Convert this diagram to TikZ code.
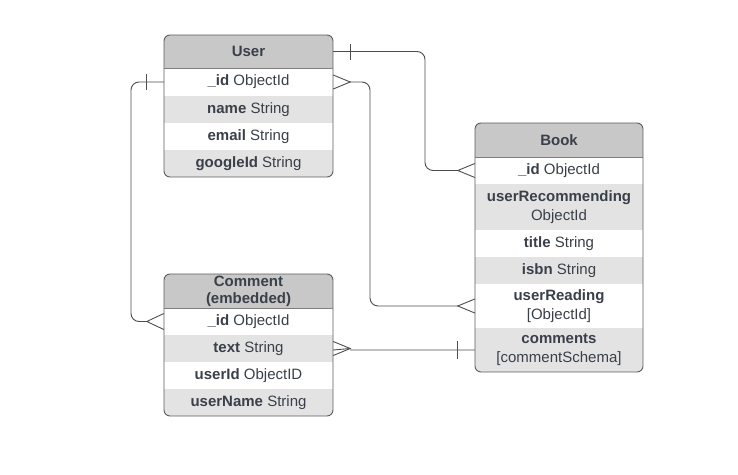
\documentclass[tikz,border=0pt]{standalone}
\usepackage{fontspec}
\setmainfont{Liberation Sans}
\usetikzlibrary{calc}
\definecolor{hdrgray}{HTML}{C8C8C8}
\definecolor{rowgray}{HTML}{E3E3E3}
\definecolor{bordergray}{HTML}{5C5C5C}
\definecolor{txt}{HTML}{3A4049}
\definecolor{linegray}{HTML}{4D4D4D}
\tikzset{
  cell/.style={rectangle, inner sep=0pt, minimum width=169pt, text=txt, font=\fontsize{15}{19}\selectfont, align=center},
  hdr/.style={cell, fill=hdrgray, font=\fontsize{15}{17}\selectfont\bfseries},
  roww/.style={cell, fill=white},
  rowg/.style={cell, fill=rowgray},
  boxline/.style={draw=bordergray, line width=0.9pt, rounded corners=6pt},
  sepline/.style={draw=bordergray!80, line width=1.3pt},
  conn/.style={draw=linegray, line width=0.9pt, rounded corners=8pt},
  tipline/.style={draw=linegray, line width=0.9pt}
}
\begin{document}
\begin{tikzpicture}[x=1pt,y=-1pt]
\useasboundingbox (0,0) rectangle (738,474);
% ---------- User ----------
\begin{scope}
\clip[rounded corners=6pt] (164,35) rectangle (333,177);
\node[hdr, minimum height=33pt] (user) at (248.5,51.5) {User};
\node[roww, minimum height=28pt] (u-id) at (248.5,82) {\textbf{\_id} ObjectId};
\node[rowg, minimum height=27pt] (u-name) at (248.5,109.5) {\textbf{name} String};
\node[roww, minimum height=27pt] (u-email) at (248.5,136.5) {\textbf{email} String};
\node[rowg, minimum height=27pt] (u-gid) at (248.5,163.5) {\textbf{googleId} String};
\end{scope}
\draw[boxline] (164,35) rectangle (333,177);
\draw[sepline] (user.south west) -- (user.south east);
% ---------- Book ----------
\begin{scope}
\clip[rounded corners=6pt] (475,123) rectangle (643,372);
\node[hdr, minimum width=168pt, minimum height=34pt] (book) at (559,140) {Book};
\node[roww, minimum width=168pt, minimum height=27pt] (b-id) at (559,170.5) {\textbf{\_id} ObjectId};
\node[rowg, minimum width=168pt, minimum height=46pt] (b-rec) at (559,207) {\textbf{userRecommending}\\ObjectId};
\node[roww, minimum width=168pt, minimum height=27pt] (b-title) at (559,243.5) {\textbf{title} String};
\node[rowg, minimum width=168pt, minimum height=27pt] (b-isbn) at (559,270.5) {\textbf{isbn} String};
\node[roww, minimum width=168pt, minimum height=44pt] (b-read) at (559,306) {\textbf{userReading}\\{}[ObjectId]};
\node[rowg, minimum width=168pt, minimum height=44pt] (b-com) at (559,350) {\textbf{comments}\\{}[commentSchema]};
\end{scope}
\draw[boxline] (475,123) rectangle (643,372);
\draw[sepline] (book.south west) -- (book.south east);
% ---------- Comment ----------
\begin{scope}
\clip[rounded corners=6pt] (164,274) rectangle (333,416);
\node[hdr, minimum height=34pt] (comment) at (248.5,291) {Comment\\(embedded)};
\node[roww, minimum height=27pt] (c-id) at (248.5,321.5) {\textbf{\_id} ObjectId};
\node[rowg, minimum height=27pt] (c-text) at (248.5,348.5) {\textbf{text} String};
\node[roww, minimum height=27pt] (c-uid) at (248.5,375.5) {\textbf{userId} ObjectID};
\node[rowg, minimum height=27pt] (c-uname) at (248.5,402.5) {\textbf{userName} String};
\end{scope}
\draw[boxline] (164,274) rectangle (333,416);
\draw[sepline] (comment.south west) -- (comment.south east);
% ---------- Connectors ----------
\coordinate (r1) at (425,0);
\coordinate (r2) at (370,0);
\coordinate (l1) at (131,0);
% User -> Book _id
\draw[conn] (user.east) -- (user.east -| r1) -- (r1 |- b-id.west) -- ($(b-id.west)+(-17,0)$);
\draw[tipline] ($(user.east)+(17,-8)$) -- ($(user.east)+(17,8)$);
\draw[tipline] ($(b-id.west)+(0,-7)$) -- ($(b-id.west)+(-17,0)$) -- ($(b-id.west)+(0,7)$);
% User _id -> Book userReading
\draw[tipline] ($(u-id.east)+(0,-7)$) -- ($(u-id.east)+(17,0)$) -- ($(u-id.east)+(0,7)$);
\draw[conn] ($(u-id.east)+(17,0)$) -- (u-id.east -| r2) -- (r2 |- b-read.west) -- ($(b-read.west)+(-17,0)$);
\draw[tipline] ($(b-read.west)+(0,-7)$) -- ($(b-read.west)+(-17,0)$) -- ($(b-read.west)+(0,7)$);
% User _id -> Comment _id
\draw[conn] (u-id.west) -- (u-id.west -| l1) -- (l1 |- c-id.west) -- ($(c-id.west)+(-17,0)$);
\draw[tipline] ($(u-id.west)+(-17,-8)$) -- ($(u-id.west)+(-17,8)$);
\draw[tipline] ($(c-id.west)+(0,-8)$) -- ($(c-id.west)+(-17,0)$) -- ($(c-id.west)+(0,8)$);
% Comment text -> Book comments
\draw[tipline] ($(c-text.east)+(0,-7)$) -- ($(c-text.east)+(17,0)$) -- ($(c-text.east)+(0,7)$);
\draw[conn] ($(c-text.east)+(17,0)$) -- (b-com.west -| c-text.east) ++(17,0) -- (b-com.west);
\draw[tipline] ($(b-com.west)+(-17,-9)$) -- ($(b-com.west)+(-17,9)$);
\end{tikzpicture}
\end{document}
